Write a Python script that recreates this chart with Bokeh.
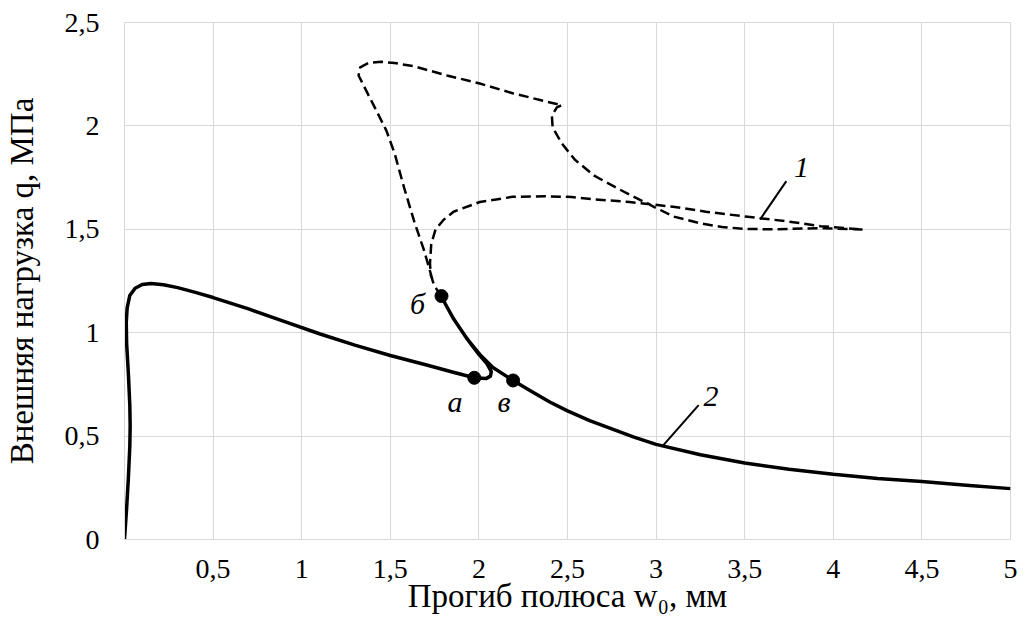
from bokeh.plotting import figure
from bokeh.models import Range1d, FixedTicker
from bokeh.core.properties import value
from bokeh.embed import file_html
from bokeh.resources import INLINE

# ---- data ----
# curve 2 (solid): q vs w0
curve2_x = [0.0, 0.012, 0.022, 0.030, 0.032, 0.030, 0.022, 0.012, 0.010, 0.015, 0.03, 0.06,
            0.10, 0.15, 0.22, 0.30, 0.40, 0.50, 0.70, 0.90, 1.10, 1.30, 1.50, 1.70, 1.85,
            1.974, 2.04, 2.065, 2.07, 2.045, 2.00, 1.96, 1.93, 1.857, 1.81, 1.789,
            1.81, 1.857, 1.931, 2.005, 2.079, 2.193, 2.30, 2.40, 2.50, 2.625, 2.75, 2.875,
            3.00, 3.25, 3.50, 3.75, 4.00, 4.25, 4.50, 4.75, 5.00]
curve2_y = [0.0, 0.15, 0.30, 0.45, 0.55, 0.65, 0.80, 0.95, 1.05, 1.12, 1.18, 1.215,
            1.233, 1.238, 1.232, 1.218, 1.195, 1.17, 1.115, 1.055, 0.995, 0.94, 0.89, 0.845, 0.81,
            0.782, 0.778, 0.79, 0.812, 0.85, 0.895, 0.94, 0.975, 1.067, 1.14, 1.177,
            1.14, 1.067, 0.973, 0.895, 0.832, 0.769, 0.715, 0.665, 0.622, 0.575, 0.535, 0.495,
            0.46, 0.41, 0.37, 0.34, 0.315, 0.295, 0.28, 0.262, 0.246]

# curve 1 (dashed)
curve1_x = [1.789, 1.765, 1.745, 1.728, 1.724, 1.731, 1.755, 1.801, 1.857, 2.005, 2.190,
            2.375, 2.523, 2.653, 2.85, 3.097, 3.281, 3.503, 3.744, 3.929, 4.169,
            3.946, 3.83, 3.65, 3.503, 3.372, 3.245, 3.097, 2.95, 2.80, 2.653, 2.542,
            2.468, 2.416, 2.412, 2.440, 2.468,
            2.375, 2.190, 2.005, 1.820, 1.635, 1.524, 1.450, 1.376, 1.330, 1.321,
            1.376, 1.432, 1.478, 1.524, 1.580, 1.635, 1.691, 1.745]
curve1_y = [1.177, 1.205, 1.235, 1.28, 1.334, 1.428, 1.499, 1.546, 1.585, 1.632, 1.657,
            1.660, 1.656, 1.645, 1.632, 1.609, 1.585, 1.562, 1.538, 1.515, 1.499,
            1.505, 1.504, 1.500, 1.502, 1.511, 1.530, 1.562, 1.625, 1.69, 1.758, 1.836,
            1.915, 1.993, 2.048, 2.090, 2.100,
            2.119, 2.158, 2.205, 2.244, 2.288, 2.304, 2.310, 2.304, 2.283, 2.244,
            2.150, 2.056, 1.977, 1.868, 1.695, 1.538, 1.397, 1.235]

# marked points а, б, в
point_names = ["а", "б", "в"]
point_x = [1.974, 1.789, 2.193]
point_y = [0.782, 1.177, 0.769]
point_label_x = [1.865, 1.654, 2.142]
point_label_y = [0.665, 1.14, 0.665]

# curve numbers with leader lines
curve_names = ["1", "2"]
leader_x0 = [3.587, 3.04]
leader_y0 = [1.548, 0.455]
leader_x1 = [3.735, 3.24]
leader_y1 = [1.733, 0.65]
curve_label_x = [3.82, 3.31]
curve_label_y = [1.80, 0.69]

# axes
x_ticks = [0.5, 1, 1.5, 2, 2.5, 3, 3.5, 4, 4.5, 5]
x_tick_labels = ["0,5", "1", "1,5", "2", "2,5", "3", "3,5", "4", "4,5", "5"]
y_ticks = [0, 0.5, 1, 1.5, 2, 2.5]
y_tick_labels = ["0", "0,5", "1", "1,5", "2", "2,5"]
x_title = "Прогиб полюса w₀, мм"
y_title = "Внешняя нагрузка q, МПа"

FONT = "'Liberation Serif', 'Times New Roman', serif"
GRID = "#d9d9d9"

p = figure(width=1018, height=618, x_range=Range1d(0, 5), y_range=Range1d(0, 2.5),
           output_backend="svg", toolbar_location=None,
           min_border_left=114, min_border_right=8, min_border_top=22, min_border_bottom=79)

p.outline_line_color = GRID
p.background_fill_color = "white"
p.border_fill_color = "white"

p.xaxis.ticker = FixedTicker(ticks=x_ticks)
p.yaxis.ticker = FixedTicker(ticks=y_ticks)
p.xaxis.major_label_overrides = {t: l for t, l in zip(x_ticks, x_tick_labels)}
p.yaxis.major_label_overrides = {t: l for t, l in zip(y_ticks, y_tick_labels)}
p.xgrid.grid_line_color = GRID
p.ygrid.grid_line_color = GRID

for ax in (p.xaxis[0], p.yaxis[0]):
    ax.axis_line_color = GRID
    ax.major_tick_line_color = None
    ax.minor_tick_line_color = None
    ax.major_label_text_font = FONT
    ax.major_label_text_font_size = "28px"
    ax.major_label_text_color = "black"
    ax.axis_label_text_font = FONT
    ax.axis_label_text_font_size = "33px"
    ax.axis_label_text_font_style = "normal"
    ax.axis_label_text_color = "black"

p.xaxis.axis_label = x_title
p.yaxis.axis_label = y_title
p.xaxis.major_label_standoff = 14
p.xaxis.axis_label_standoff = -3
p.yaxis.major_label_standoff = 19
p.yaxis.axis_label_standoff = 22

p.line(curve1_x, curve1_y, line_color="black", line_width=2.5, line_dash="10 5",
       line_join="round")
p.line(curve2_x, curve2_y, line_color="black", line_width=3.5, line_join="round")

p.scatter(point_x, point_y, size=13, color="black")
p.segment(leader_x0, leader_y0, leader_x1, leader_y1, line_color="black", line_width=2)

p.text(point_label_x, point_label_y, text=point_names, text_font=value(FONT),
       text_font_style="italic", text_font_size="30px", text_align="center",
       text_baseline="middle", text_color="black")
p.text(curve_label_x, curve_label_y, text=curve_names, text_font=value(FONT),
       text_font_style="italic", text_font_size="30px", text_align="center",
       text_baseline="middle", text_color="black")

open("out.html", "w").write(file_html(p, INLINE))
